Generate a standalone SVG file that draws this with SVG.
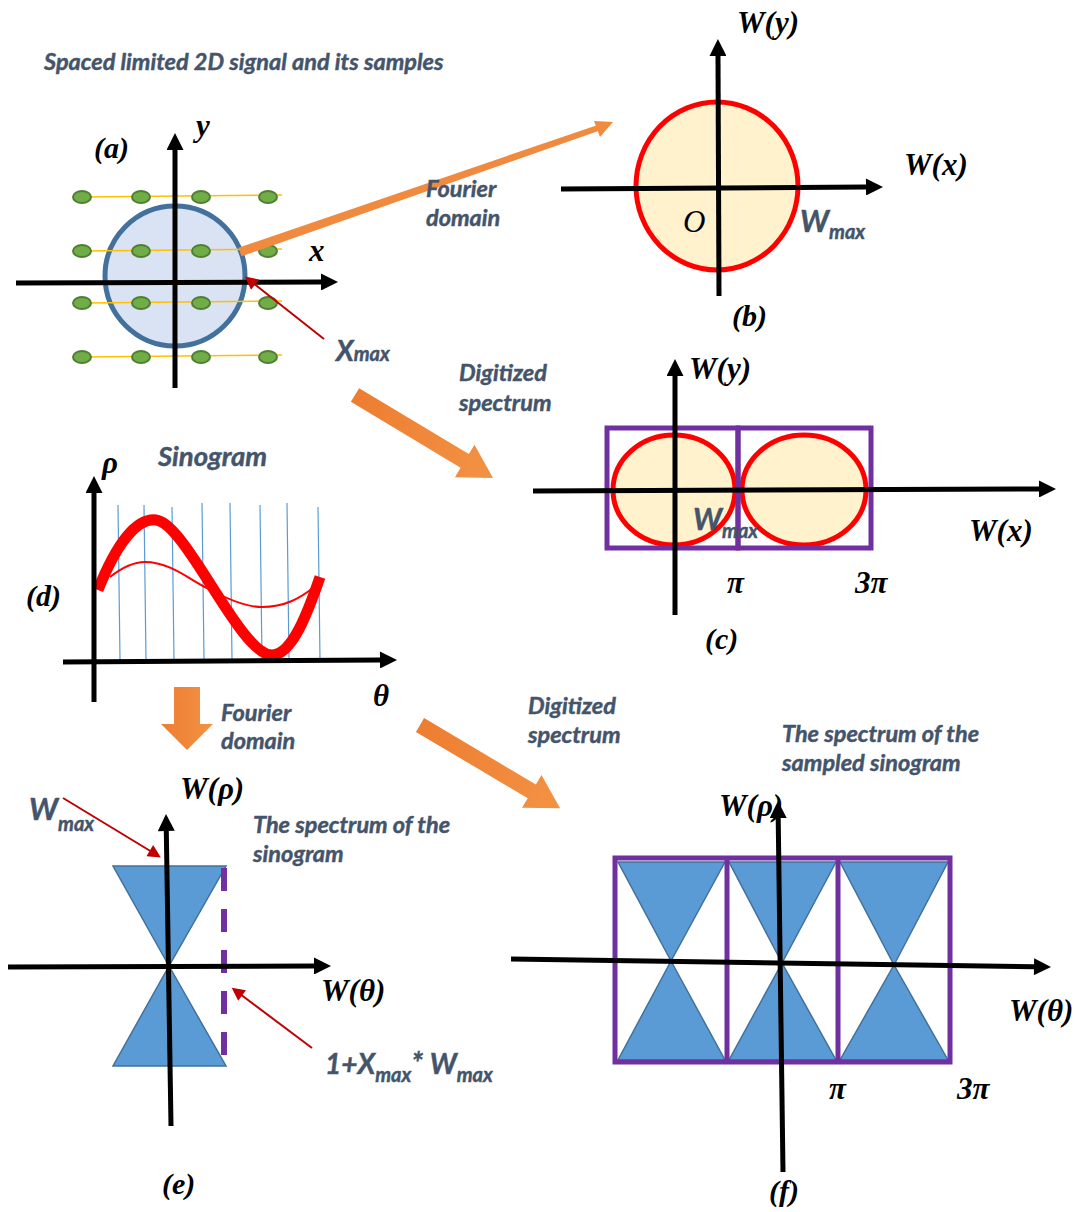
<svg xmlns="http://www.w3.org/2000/svg" width="1075" height="1212" viewBox="0 0 1075 1212">
<style>
.lbl{font-family:"Lato","Open Sans",sans-serif;font-weight:bold;font-style:italic;fill:#44546A;stroke:#44546A;stroke-width:0.45}
.m{font-family:"Liberation Serif",serif;font-weight:bold;font-style:italic;fill:#000}
.ax{stroke:#000;stroke-width:5;fill:none;marker-end:url(#ah)}
.ra{stroke:#C00000;stroke-width:2;fill:none;marker-end:url(#rh)}
.bow{fill:#5B9BD5;stroke:#41719C;stroke-width:1.5}
.pur{fill:none;stroke:#7030A0;stroke-width:5}
.dot{fill:#70AD47;stroke:#507E32;stroke-width:2}
.yl{stroke:#FFC000;stroke-width:1.5}
.vl{stroke:#5B9BD5;stroke-width:1.2}
</style>
<defs>
<marker id="ah" viewBox="0 0 10 10" refX="0" refY="5" markerWidth="3.6" markerHeight="3.4" orient="auto" markerUnits="strokeWidth"><path d="M0,0 L10,5 L0,10 z" fill="#000"/></marker>
<marker id="rh" viewBox="0 0 10 10" refX="2" refY="5" markerWidth="7.5" markerHeight="6.5" orient="auto" markerUnits="strokeWidth"><path d="M0,0 L10,5 L0,10 z" fill="#C00000"/></marker>
<linearGradient id="og" x1="0" y1="0" x2="1" y2="0"><stop offset="0" stop-color="#ED7D31"/><stop offset="1" stop-color="#F39244"/></linearGradient>
</defs>

<g id="panel-a">
<text class="lbl" x="44" y="70" font-size="23.5">Spaced limited 2D signal and its samples</text>
<ellipse cx="175" cy="276" rx="70" ry="70" fill="#DAE3F3" stroke="#41719C" stroke-width="5"/>
<g class="yl">
<line x1="82" y1="197" x2="282" y2="195"/>
<line x1="82" y1="251" x2="282" y2="249"/>
<line x1="82" y1="303" x2="282" y2="301"/>
<line x1="82" y1="357" x2="282" y2="355"/>
</g>
<g class="dot">
<ellipse cx="82" cy="197" rx="9" ry="6"/><ellipse cx="141" cy="197" rx="9" ry="6"/><ellipse cx="201" cy="197" rx="9" ry="6"/><ellipse cx="268" cy="197" rx="9" ry="6"/>
<ellipse cx="82" cy="251" rx="9" ry="6"/><ellipse cx="141" cy="251" rx="9" ry="6"/><ellipse cx="201" cy="251" rx="9" ry="6"/><ellipse cx="268" cy="251" rx="9" ry="6"/>
<ellipse cx="82" cy="303" rx="9" ry="6"/><ellipse cx="141" cy="303" rx="9" ry="6"/><ellipse cx="201" cy="303" rx="9" ry="6"/><ellipse cx="268" cy="303" rx="9" ry="6"/>
<ellipse cx="82" cy="357" rx="9" ry="6"/><ellipse cx="141" cy="357" rx="9" ry="6"/><ellipse cx="201" cy="357" rx="9" ry="6"/><ellipse cx="268" cy="357" rx="9" ry="6"/>
</g>
<line class="ax" x1="175" y1="388" x2="175" y2="150"/>
<line class="ax" x1="16" y1="283" x2="321" y2="282"/>
<text class="m" x="94" y="158" font-size="30">(a)</text>
<text class="m" x="196" y="136" font-size="31">y</text>
<text class="m" x="309" y="261" font-size="31">x</text>
<text class="lbl" x="336" y="361" font-size="28">X<tspan font-size="20">max</tspan></text>
</g>

<g id="panel-b">
<ellipse cx="717" cy="186" rx="81" ry="84" fill="#FFF2CC" stroke="#FF0000" stroke-width="5"/>
<line class="ax" x1="719" y1="296" x2="718" y2="56"/>
<line class="ax" x1="561" y1="189" x2="866" y2="187"/>
<text class="m" x="737" y="33" font-size="31">W(y)</text>
<text class="m" x="904" y="175" font-size="31">W(x)</text>
<text class="m" x="683" y="232" font-size="31" style="font-weight:normal">O</text>
<text class="lbl" x="800" y="232" font-size="30">W<tspan font-size="20" dy="7">max</tspan></text>
<text class="m" x="732" y="326" font-size="30">(b)</text>
</g>

<g id="panel-c">
<ellipse cx="674" cy="490" rx="61" ry="55" fill="#FFF2CC" stroke="#FF0000" stroke-width="5"/>
<ellipse cx="804" cy="490" rx="62" ry="55" fill="#FFF2CC" stroke="#FF0000" stroke-width="5"/>
<rect class="pur" x="607" y="428" width="131" height="120" stroke-width="4.5"/>
<rect class="pur" x="738" y="428" width="133" height="120" stroke-width="4.5"/>
<line class="ax" x1="675" y1="615" x2="675" y2="376"/>
<line class="ax" x1="533" y1="491" x2="1039" y2="489"/>
<text class="m" x="689" y="379" font-size="31">W(y)</text>
<text class="m" x="969" y="541" font-size="31">W(x)</text>
<text class="lbl" x="693" y="530" font-size="30">W<tspan font-size="20" dy="8">max</tspan></text>
<text class="m" x="727" y="593" font-size="31">π</text>
<text class="m" x="855" y="593" font-size="31">3π</text>
<text class="m" x="705" y="649" font-size="30">(c)</text>
</g>

<g id="panel-d">
<g class="vl">
<line x1="118" y1="505" x2="120" y2="660"/><line x1="144" y1="505" x2="146" y2="660"/><line x1="172" y1="507" x2="174" y2="660"/><line x1="202" y1="503" x2="204" y2="660"/>
<line x1="230" y1="503" x2="232" y2="660"/><line x1="260" y1="505" x2="262" y2="660"/><line x1="287" y1="503" x2="289" y2="660"/><line x1="318" y1="507" x2="320" y2="660"/>
</g>
<path d="M98,590 C118,540 138,518 156,520 C186,523 240,655 272,655 C292,655 308,612 320,577" fill="none" stroke="#FF0000" stroke-width="11"/>
<path d="M110,577 C124,566 134,562 145,562 C170,562 190,580 207,588 C225,598 245,607 262,607 C285,607 300,598 313,588" fill="none" stroke="#FF0000" stroke-width="2"/>
<line class="ax" x1="94" y1="702" x2="94" y2="493"/>
<line class="ax" x1="63" y1="662" x2="380" y2="660"/>
<text class="lbl" x="158" y="466" font-size="27.5">Sinogram</text>
<text class="m" x="102" y="473" font-size="31">ρ</text>
<text class="m" x="26" y="606" font-size="30">(d)</text>
<text class="m" x="373" y="706" font-size="31">θ</text>
</g>

<g id="panel-e">
<polygon class="bow" points="113,866 226,866 169,966"/>
<polygon class="bow" points="113,1066 226,1066 169,966"/>
<line x1="224" y1="868" x2="224" y2="1058" stroke="#7030A0" stroke-width="6" stroke-dasharray="23,18"/>
<line class="ax" x1="171" y1="1126" x2="166.3" y2="831"/>
<line class="ax" x1="8" y1="967" x2="314" y2="966"/>
<text class="m" x="180" y="799" font-size="31">W(ρ)</text>
<text class="lbl" x="29" y="820" font-size="30">W<tspan font-size="20" dy="11">max</tspan></text>
<text class="lbl" x="253" y="833" font-size="23.5">The spectrum of the</text>
<text class="lbl" x="253" y="862" font-size="23.5">sinogram</text>
<text class="m" x="321" y="1001" font-size="31">W(θ)</text>
<text class="lbl" x="325" y="1074" font-size="28">1+X<tspan font-size="20" dy="8">max</tspan><tspan dy="-8" font-size="30">* </tspan><tspan>W</tspan><tspan font-size="20" dy="8">max</tspan></text>
<text class="m" x="162" y="1194" font-size="30">(e)</text>
</g>

<g id="panel-f">
<polygon class="bow" points="618,862 725,862 671,961"/>
<polygon class="bow" points="618,1060 725,1060 671,961"/>
<polygon class="bow" points="729,862 836,862 782,963"/>
<polygon class="bow" points="729,1060 836,1060 782,963"/>
<polygon class="bow" points="840,862 948,862 894,965"/>
<polygon class="bow" points="840,1060 948,1060 894,965"/>
<rect class="pur" x="615" y="858" width="335" height="204"/>
<line class="pur" x1="727" y1="858" x2="727" y2="1062"/>
<line class="pur" x1="838" y1="858" x2="838" y2="1062"/>
<line class="ax" x1="511" y1="959" x2="1034" y2="966.7"/>
<line class="ax" x1="783" y1="1172" x2="778.2" y2="818"/>
<text class="m" x="719" y="816" font-size="31">W(ρ)</text>
<text class="lbl" x="782" y="742" font-size="23.5">The spectrum of the</text>
<text class="lbl" x="782" y="771" font-size="23.5">sampled sinogram</text>
<text class="m" x="1009" y="1021" font-size="31">W(θ)</text>
<text class="m" x="829" y="1099" font-size="31">π</text>
<text class="m" x="957" y="1099" font-size="31">3π</text>
<text class="m" x="769" y="1201" font-size="30">(f)</text>
</g>

<g id="connectors">
<polygon points="241.5,256.3 599,130.8 597,125.2 238.5,247.7" fill="#F08A3E"/>
<polygon points="613,122 594,121 600,137" fill="#F08A3E"/>
<text class="lbl" x="426" y="197" font-size="23.5">Fourier</text>
<text class="lbl" x="426" y="226" font-size="23.5">domain</text>
<line class="ra" x1="324" y1="339" x2="253" y2="283"/>
<g transform="translate(355,395) rotate(31)">
<polygon points="0,-8 128,-8 128,-19 161,0 128,19 128,8 0,8" fill="url(#og)"/>
</g>
<text class="lbl" x="459" y="381" font-size="23.5">Digitized</text>
<text class="lbl" x="459" y="411" font-size="23.5">spectrum</text>
<polygon points="174,687 200,687 200,724 213,724 187,750 161,724 174,724" fill="url(#og)"/>
<text class="lbl" x="221" y="721" font-size="23.5">Fourier</text>
<text class="lbl" x="221" y="749" font-size="23.5">domain</text>
<g transform="translate(420,725) rotate(30.7)">
<polygon points="0,-8 130,-8 130,-19 163,0 130,19 130,8 0,8" fill="url(#og)"/>
</g>
<text class="lbl" x="528" y="714" font-size="23.5">Digitized</text>
<text class="lbl" x="528" y="743" font-size="23.5">spectrum</text>
<line class="ra" x1="63" y1="798" x2="152" y2="852"/>
<line class="ra" x1="312" y1="1048" x2="240" y2="994"/>
</g>
</svg>
